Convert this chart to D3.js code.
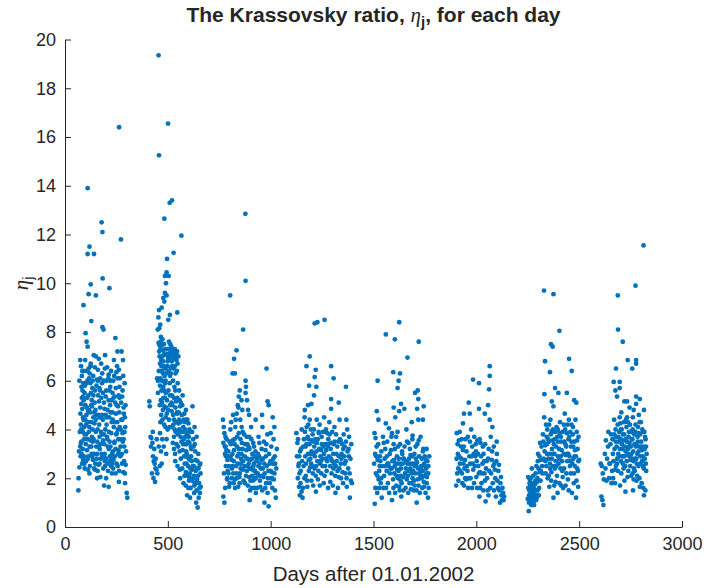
<!DOCTYPE html>
<html>
<head>
<meta charset="utf-8">
<script src="https://cdn.jsdelivr.net/npm/d3@7"></script>
<style>
  body { margin: 0; background: #fff; }
  text { font-family: "Liberation Sans", Arial, Helvetica, sans-serif; fill: #262626; }
</style>
</head>
<body>
<svg id="chart" width="706" height="588"></svg>
<script>
// ticks
const xTicks = [0, 500, 1000, 1500, 2000, 2500, 3000];
const yTicks = [0, 2, 4, 6, 8, 10, 12, 14, 16, 18, 20];

// [day, eta], one array per season
const season1 = [
  [110,13.9],[263,16.4],[178,12.5],[182,12.1],[272,11.8],[119,11.5],[110,11.2],[141,11.2],[183,10.2],
  [125,9.95],[216,9.8],[115,9.55],[150,9.5],[90,9.1],[128,8.45],[182,8.2],[187,8.1],
  [65,1.5],[66,2.0],[70,2.45],[68,3.1],[72,3.9],[75,4.65],[70,6.0],[74,6.85],
  [78,6.6],[82,6.2],[80,5.75],[85,5.6],[88,5.35],[79,5.05],[84,4.85],[90,4.4],[77,3.45],[86,3.2],
  [81,3.0],[92,2.9],[88,2.75],[94,4.1],[91,5.2],
  [100,7.95],[105,7.6],[110,7.4],[98,6.85],[115,6.5],[120,6.3],[103,5.9],[126,5.5],[108,5.3],[131,4.95],
  [113,4.75],[99,4.4],[118,4.1],[124,3.55],[107,3.15],[129,3.0],[102,2.7],[121,2.5],[112,2.35],[133,5.7],
  [96,3.8],[117,6.1],[127,4.3],[106,4.9],[132,2.9],
  [140,7.05],[150,7.0],[145,6.55],[160,6.45],[155,6.05],[170,5.6],[138,5.4],[165,5.15],[148,4.8],[175,4.5],
  [143,4.25],[158,4.0],[168,3.7],[152,3.3],[178,3.0],[136,2.75],[163,2.55],[146,2.35],[172,2.05],[156,2.0],
  [180,5.9],[139,3.6],[162,4.6],[176,6.7],[150,3.9],[168,2.6],
  [195,7.05],[205,6.55],[212,6.25],[188,6.0],[220,5.75],[198,5.35],[226,5.2],[192,4.85],[215,4.5],[202,4.2],
  [225,3.85],[185,3.55],[208,3.3],[218,2.9],[195,2.5],[228,2.2],[200,2.0],[212,1.65],[190,1.7],[222,4.7],
  [206,3.6],[188,2.9],[216,5.6],[230,2.6],
  [245,7.75],[255,7.2],[238,6.85],[262,6.45],[250,6.35],[235,6.0],[265,5.75],[242,5.35],[258,4.95],[248,4.65],
  [232,4.4],[266,4.1],[252,3.85],[240,3.45],[260,3.15],[236,2.75],[256,2.5],[246,2.2],[262,1.85],[244,5.1],
  [268,3.6],[233,3.1],[254,4.3],
  [275,7.2],[282,6.85],[290,5.9],[278,5.35],[286,4.65],[293,4.1],[280,3.85],[288,3.3],[276,3.0],[295,2.55],
  [284,2.25],[292,1.8],[300,1.4],[303,1.2],[279,4.4],[287,2.7],
  [74,3.3],[76,2.9],[80,3.5],[83,2.6],[77,4.2],[84,6.4],[89,5.9],[93,3.6],[96,2.4],[99,5.0],
  [101,3.4],[104,4.6],[109,6.0],[111,2.8],[114,5.4],[116,3.9],[119,2.2],[122,4.7],[125,6.7],[128,3.3],
  [130,5.2],[134,4.0],[137,6.2],[141,3.0],[144,5.1],[147,2.6],[149,4.4],[153,5.8],[157,3.5],[159,2.3],
  [161,5.4],[164,6.9],[166,4.2],[169,3.2],[171,4.9],[174,2.8],[177,5.3],[179,3.8],[181,6.3],[184,4.4],
  [186,2.4],[189,5.1],[191,3.4],[194,6.5],[196,4.0],[199,2.8],[201,5.6],[204,3.7],[207,4.8],[209,2.3],
  [211,6.1],[214,3.9],[217,2.7],[219,5.0],[221,3.3],[224,6.4],[227,4.3],[229,3.0],[231,5.5],[234,2.4],
  [237,4.1],[239,6.2],[241,3.5],[243,2.9],[247,5.7],[249,3.8],[251,2.6],[253,6.6],[257,4.0],[259,3.0],
  [261,5.4],[263,2.3],[264,4.7],[267,6.1],[269,2.9],[271,4.0],[273,5.1],[277,2.6],[281,3.5],[283,6.2],
  [285,4.9],[289,3.9],[291,2.2],[294,5.0],[297,3.1],[88,4.5],[95,5.5],[103,3.8],[112,4.3],[123,5.9],
  [135,3.5],[142,4.7],[154,2.8],[167,5.7],[173,3.4],[183,2.9],[193,3.0],[203,4.5],[213,3.2],[223,2.5],
  [79,4.0],[82,5.3],[87,3.9],[91,6.4],[94,2.6],[97,5.8],[102,4.2],[106,6.4],[110,3.6],[113,2.9],
  [117,4.8],[120,3.3],[124,6.6],[127,5.0],[131,3.7],[134,6.0],[138,4.5],[142,2.4],[146,5.6],[151,4.6],
  [156,3.0],[160,6.0],[163,3.3],[167,4.5],[171,6.1],[175,3.9],[180,4.6],[185,5.5],[190,3.8],[194,2.7],
  [198,4.6],[203,6.0],[207,2.6],[212,5.2],[217,3.5],[221,6.0],[226,2.8],[231,4.7],[236,5.3],[241,4.3],
  [246,3.2],[251,5.0],[256,6.1],[260,3.6],[265,5.3],[270,3.3],[274,4.4],[280,5.6],[285,3.6],[291,4.5]
];

const season2 = [
  [455,19.35],[501,16.55],[457,15.25],[509,13.3],[520,13.4],[483,12.65],[566,11.95],[528,11.25],[496,11.0],
  [494,10.45],[486,10.3],[504,10.3],[491,10.0],[486,9.6],[478,9.4],[483,9.25],[494,9.5],[546,8.8],[454,8.6],
  [502,8.5],[510,8.7],[458,8.15],[451,8.1],
  [410,5.15],[412,4.95],[416,3.7],[420,3.65],[425,3.45],[418,3.3],[428,2.9],[432,2.7],[436,2.6],[440,2.4],
  [445,2.35],[430,2.0],[438,1.85],[448,6.1],[452,6.0],[455,7.55],[460,7.45],
  [465,7.6],[470,7.45],[475,7.25],[480,7.05],[468,6.85],[485,6.55],[463,6.1],[472,6.0],[478,5.75],[490,5.5],
  [466,5.2],[483,4.95],[495,4.65],[474,4.4],[488,4.1],[462,3.85],[480,3.3],[492,3.0],[470,2.6],[498,7.3],
  [460,7.0],[476,6.3],[486,5.3],[468,4.6],[494,3.6],
  [505,7.6],[512,7.5],[520,7.25],[528,7.2],[535,7.0],[542,6.85],[515,6.55],[525,6.0],[548,5.9],[532,5.75],
  [555,5.6],[510,5.4],[540,5.15],[560,4.95],[518,4.75],[545,4.65],[530,4.4],[552,4.25],[508,4.1],[538,3.9],
  [562,3.7],[524,3.45],[550,3.3],[535,3.0],[558,2.35],[514,6.3],[544,6.4],[522,5.0],[556,4.0],[530,3.2],
  [570,5.0],[580,4.65],[590,4.4],[600,4.25],[575,4.1],[595,3.85],[585,3.7],[605,3.45],[572,3.15],[592,3.0],
  [610,2.75],[582,2.6],[598,2.5],[588,2.25],[604,2.05],[576,1.8],[594,1.3],[608,1.2],[612,3.3],[586,2.9],
  [600,1.6],[578,3.6],
  [620,4.95],[630,4.1],[640,3.7],[625,3.3],[648,3.0],[635,2.75],[655,2.55],[618,2.35],[642,1.95],[660,1.65],
  [628,1.4],[650,1.2],[638,1.0],[645,0.8],[622,2.0],[658,2.6],[632,1.8],
  [458,7.2],[462,6.7],[466,7.8],[471,6.4],[473,7.0],[477,6.8],[481,7.5],[484,6.2],[487,7.3],[489,6.0],
  [493,7.1],[497,6.6],[500,7.0],[503,6.9],[507,7.3],[511,6.2],[513,7.0],[517,7.4],[519,6.8],[523,7.1],
  [527,6.5],[531,6.9],[534,7.3],[537,6.3],[541,7.1],[547,6.7],[551,7.0],[457,8.9],[463,8.3],[470,9.0],
  [452,5.5],[461,5.0],[464,4.3],[469,5.6],[476,4.8],[479,5.3],[482,4.2],[487,5.9],[490,4.5],[496,5.2],
  [499,4.0],[503,5.6],[506,4.4],[511,5.0],[516,4.1],[520,5.4],[526,4.6],[529,5.3],[533,4.0],[537,4.9],
  [541,4.3],[546,5.3],[549,3.8],[553,4.7],[557,5.2],[561,4.3],[565,3.9],[568,4.6],[572,5.4],[577,4.4],
  [583,4.0],[588,4.8],
  [530,3.7],[536,2.7],[542,3.4],[547,2.5],[553,3.9],[557,3.1],[563,2.8],[566,3.5],[570,2.4],[574,3.9],
  [579,2.9],[581,2.1],[584,3.4],[587,1.7],[589,3.1],[591,2.6],[593,3.8],[596,2.1],[599,3.5],[601,2.8],
  [603,1.9],[606,3.9],[609,2.4],[611,1.6],[614,3.2],[616,2.7],[619,1.9],[623,3.6],[626,2.5],[629,1.7],
  [633,3.1],[636,2.3],[639,1.5],[644,2.7],[647,2.1],[652,1.8],[656,1.4],[560,2.0],[595,4.4],[605,4.0],
  [423,2.2],[427,3.9],[434,3.2],[441,2.8],[446,3.6],[449,2.2],[456,3.3],[461,2.5],[467,3.1],[473,3.6],
  [456,6.4],[464,7.3],[469,6.6],[474,7.7],[479,6.6],[484,7.1],[488,6.5],[493,6.3],[499,6.8],[505,6.4],
  [509,7.1],[514,7.2],[521,6.6],[526,7.0],[533,6.6],[539,6.9],[545,7.2],[462,5.8],[472,5.1],[481,5.6],
  [491,4.9],[501,4.8],[509,5.9],[518,5.1],[527,4.2],[536,5.6],[544,4.7],[555,4.4],[563,5.1],[575,3.4],
  [582,4.3],[590,3.4],[597,2.9],[602,3.7],[607,2.2],[613,2.9],[618,3.9],[621,2.5],[627,2.1],[631,3.4],
  [637,1.8],[641,2.4],[649,2.4],[654,1.6],[659,2.2]
];

const season3 = [
  [877,12.85],[878,10.1],[803,9.5],[866,8.1],[834,7.25],[822,6.9],[980,6.5],[815,6.3],[826,6.3],[878,6.0],
  [880,5.75],
  [768,4.4],[772,4.1],[775,3.85],[780,3.7],[770,3.45],[785,3.15],[778,3.0],[790,2.75],[782,2.5],[795,2.2],
  [788,1.95],[798,1.65],[770,1.25],[775,1.0],[800,3.5],[792,2.9],[804,4.0],
  [850,5.6],[845,5.35],[858,5.2],[840,5.0],[862,4.8],[835,4.65],[852,4.4],[828,4.1],[845,3.85],[815,3.55],
  [860,3.45],[822,3.15],[838,2.9],[810,2.75],[855,2.6],[832,2.5],[865,2.35],[818,2.2],[848,2.05],[826,1.95],
  [842,1.65],[858,3.0],[812,2.4],[836,3.3],[866,2.7],[820,1.8],[850,2.2],
  [878,5.5],[885,5.2],[890,4.8],[905,4.1],[896,3.7],[915,3.45],[882,3.15],[925,2.9],[900,2.75],[888,2.5],
  [912,2.35],[930,2.2],[895,2.05],[920,1.95],[875,1.8],[908,1.6],[928,1.4],[898,1.1],[918,2.6],[884,2.3],
  [902,1.9],[926,3.1],[892,3.3],[910,2.1],
  [985,5.15],[990,5.0],[1010,4.5],[960,4.1],[1000,3.85],[945,3.45],[975,3.15],[1020,2.9],[955,2.75],[995,2.6],
  [940,2.5],[1005,2.25],[965,2.05],[1015,1.95],[950,1.65],[985,1.4],[1025,1.2],[970,1.0],[990,0.85],[938,3.0],
  [1000,2.3],[962,2.4],[1022,2.6],[978,1.8],[945,2.1],[1008,1.6],
  [773,2.2],[777,3.3],[779,1.6],[783,2.9],[786,3.6],[789,2.0],[794,3.1],[797,2.5],[801,1.8],[806,3.4],
  [808,4.3],[811,2.0],[814,3.0],[817,4.6],[821,2.7],[824,3.6],[827,1.6],[830,4.4],[833,2.2],[837,3.7],
  [840,2.6],[843,4.9],[846,3.2],[849,1.8],[853,3.6],[856,2.8],[859,4.1],[863,3.2],[868,1.9],[871,3.8],
  [873,2.5],[876,3.4],[880,2.1],[883,3.7],[886,2.8],[889,1.7],[893,2.6],[897,3.2],[900,1.5],[903,2.4],
  [906,3.6],[909,2.8],[913,1.9],[916,2.5],[919,3.3],[922,1.6],[924,2.3],[927,2.0],[931,2.7],[934,1.6],
  [937,2.2],[941,3.7],[944,2.9],[948,1.9],[952,2.4],[956,3.2],[959,1.5],[963,2.8],[967,3.5],[971,2.2],
  [974,1.6],[977,2.9],[981,2.5],[984,3.8],[987,2.0],[992,3.0],[996,1.8],[999,2.7],[1003,3.3],[1006,2.0],
  [1011,2.6],[1014,3.6],[1018,2.2],[1021,1.5],[1027,2.4],[1030,3.2],[958,4.6],[1018,4.1],[927,4.4],[895,4.6],
  [781,3.3],[791,2.3],[805,2.9],[815,2.5],[825,3.4],[835,2.0],[844,3.0],[854,2.4],[864,3.9],[874,2.9],
  [887,3.4],[899,2.4],[911,3.0],[921,2.3],[933,2.8],[946,2.6],[957,2.1],[969,2.6],[979,3.4],[989,2.3],
  [1002,2.0],[1013,2.8]
];

const season4 = [
  [1214,8.35],[1227,8.4],[1262,8.5],[1190,7.0],[1174,6.6],[1219,6.45],[1294,6.6],[1214,6.15],[1306,6.1],
  [1366,5.75],[1187,5.8],[1222,5.75],[1211,5.4],[1198,5.05],[1182,5.0],[1294,5.25],[1331,5.1],[1294,4.85],
  [1166,4.8],
  [1125,3.85],[1130,3.45],[1128,2.9],[1135,2.5],[1140,2.2],[1132,2.0],[1145,1.8],[1138,1.65],[1150,1.45],
  [1142,1.3],[1155,1.2],[1148,3.2],[1153,2.7],
  [1165,4.5],[1190,4.4],[1175,4.1],[1210,4.0],[1235,3.85],[1180,3.7],[1200,3.55],[1225,3.45],[1170,3.3],
  [1245,3.15],[1195,3.0],[1215,2.9],[1185,2.75],[1240,2.6],[1160,2.5],[1205,2.2],[1230,1.95],[1178,1.65],
  [1220,1.45],[1250,2.8],[1168,2.9],[1212,3.3],[1192,2.45],[1238,4.2],[1198,1.9],[1248,3.7],
  [1260,4.5],[1285,4.3],[1310,4.1],[1275,3.85],[1340,3.55],[1295,3.45],[1360,3.3],[1270,3.15],[1320,3.0],
  [1380,2.9],[1300,2.7],[1265,2.5],[1350,2.25],[1330,2.05],[1290,1.85],[1370,1.65],[1315,1.4],[1385,1.2],
  [1345,3.0],[1275,2.7],[1305,2.4],[1360,2.6],[1280,3.6],[1325,2.3],[1390,1.9],[1258,1.8],[1335,4.4],[1372,4.0],
  [1133,3.6],[1137,2.6],[1143,3.1],[1146,2.3],[1151,4.0],[1157,1.6],[1162,3.6],[1164,2.0],[1167,3.9],[1172,2.6],
  [1174,3.4],[1177,1.9],[1181,3.0],[1183,4.2],[1186,2.3],[1189,3.4],[1193,2.8],[1196,4.0],[1199,3.1],[1202,2.5],
  [1204,3.8],[1207,1.7],[1209,3.0],[1213,2.4],[1217,3.6],[1219,2.1],[1222,3.1],[1224,4.4],[1227,2.7],[1229,3.6],
  [1232,2.3],[1236,3.2],[1239,1.7],[1242,2.9],[1246,2.2],[1249,3.4],[1252,2.5],[1255,3.9],[1259,3.0],[1262,2.1],
  [1266,3.4],[1269,4.0],[1272,2.3],[1277,3.3],[1279,1.6],[1283,2.9],[1286,3.8],[1289,2.5],[1292,3.2],[1296,2.2],
  [1299,3.9],[1302,1.7],[1304,3.0],[1308,2.6],[1311,3.5],[1314,2.1],[1318,3.8],[1321,2.7],[1324,3.3],[1327,1.6],
  [1331,2.9],[1334,2.4],[1337,3.6],[1342,2.0],[1344,2.8],[1348,3.4],[1352,1.8],[1355,3.8],[1358,2.9],[1363,2.2],
  [1366,3.5],[1369,2.0],[1374,3.1],[1377,2.4],[1381,3.7],[1384,2.2],[1388,2.8],[1392,3.4],[1395,1.8],[1368,4.4],
  [1139,2.9],[1158,3.3],[1171,2.1],[1184,3.6],[1197,2.6],[1208,3.5],[1221,2.5],[1233,3.9],[1244,2.7],[1256,3.3],
  [1268,2.8],[1281,3.4],[1293,2.8],[1306,3.4],[1317,2.5],[1329,3.5],[1341,2.6],[1353,3.2],[1365,2.7],[1379,3.2]
];

const season5 = [
  [1625,8.4],[1560,7.9],[1604,7.7],[1720,7.6],[1665,6.95],[1520,6.0],[1596,6.35],[1629,6.3],[1622,6.0],
  [1617,5.7],[1702,5.5],[1715,5.6],[1718,5.25],[1744,4.95],[1712,4.85],[1634,5.05],[1598,4.9],[1650,4.85],
  [1625,4.75],[1516,4.75],[1524,4.4],[1718,4.4],
  [1505,3.85],[1510,3.65],[1515,3.3],[1508,3.0],[1520,2.75],[1530,2.5],[1512,2.2],[1525,1.95],[1535,1.8],
  [1518,1.4],[1540,1.2],[1506,0.95],[1538,3.1],[1528,2.3],
  [1560,4.25],[1575,4.05],[1590,3.85],[1610,3.7],[1550,3.45],[1620,3.3],[1585,3.15],[1640,3.0],[1565,2.9],
  [1600,2.75],[1630,2.6],[1555,2.5],[1615,2.35],[1580,2.2],[1645,2.05],[1595,1.95],[1570,1.8],[1625,1.65],
  [1605,1.4],[1635,1.25],[1590,1.1],[1648,2.8],[1612,2.1],[1568,2.6],[1632,1.9],[1598,3.4],[1622,2.3],[1548,1.6],
  [1660,4.0],[1690,3.75],[1720,3.55],[1670,3.45],[1705,3.3],[1740,3.1],[1680,2.95],[1755,2.75],[1665,2.6],
  [1700,2.5],[1730,2.35],[1685,2.2],[1760,2.05],[1715,1.95],[1675,1.8],[1745,1.65],[1695,1.5],[1725,1.4],
  [1765,1.2],[1710,1.0],[1750,2.5],[1690,2.0],[1735,2.8],[1670,2.3],[1712,2.65],[1745,1.85],[1700,1.7],
  [1682,1.55],[1728,2.15],[1758,3.2],[1662,1.95],
  [1503,2.6],[1509,1.6],[1513,2.9],[1519,2.1],[1523,3.4],[1527,1.6],[1533,2.7],[1537,2.0],[1543,2.5],[1546,3.7],
  [1552,2.1],[1557,3.2],[1561,1.6],[1564,2.3],[1567,3.5],[1572,2.6],[1576,1.4],[1579,3.0],[1583,2.4],[1587,3.7],
  [1592,2.7],[1597,1.6],[1601,2.2],[1604,3.2],[1608,2.6],[1611,1.7],[1614,2.9],[1617,3.9],[1619,2.0],[1623,2.8],
  [1627,1.5],[1629,3.4],[1633,2.4],[1637,1.8],[1639,3.1],[1642,2.6],[1646,1.5],[1651,3.3],[1653,2.2],[1656,1.6],
  [1659,2.7],[1663,3.5],[1667,2.1],[1669,1.4],[1673,2.8],[1677,3.2],[1679,2.4],[1683,1.8],[1687,2.9],[1689,3.6],
  [1693,2.3],[1697,1.9],[1699,3.0],[1703,2.2],[1706,2.8],[1709,1.5],[1713,3.4],[1717,2.4],[1719,1.7],[1722,2.9],
  [1726,2.0],[1729,3.7],[1732,2.5],[1737,1.6],[1739,2.3],[1742,3.2],[1747,2.1],[1749,2.9],[1753,1.4],[1756,2.4],
  [1759,1.8],[1762,2.7],[1766,2.2],[1768,1.6],[1771,2.9],[1686,4.3],[1740,4.4],[1606,4.5],
  [1531,2.9],[1554,2.8],[1574,2.5],[1589,2.4],[1603,2.5],[1618,2.6],[1631,2.1],[1644,2.8],[1657,2.4],[1672,2.6],
  [1684,2.6],[1696,2.6],[1708,2.5],[1721,2.2],[1734,2.0],[1746,2.6],[1757,2.2],[1767,2.5]
];

const season6 = [
  [2065,6.6],[2065,6.2],[1984,6.05],[2013,5.9],[2062,5.65],[1963,5.1],[1940,4.65],[1968,4.65],[2013,4.85],
  [2041,4.65],[2057,5.0],[2065,4.4],[1935,4.25],[2078,4.1],
  [1905,3.85],[1915,3.55],[1925,3.3],[1935,3.15],[1910,3.0],[1945,2.75],[1920,2.6],[1955,2.5],[1930,2.2],
  [1950,1.95],[1940,1.7],[1960,1.6],[1912,2.4],[1948,3.6],[1902,1.7],
  [1975,4.0],[1990,3.7],[2005,3.55],[2020,3.45],[1980,3.3],[2035,3.0],[1995,2.9],[2050,2.7],[2010,2.5],
  [1985,2.35],[2040,2.2],[2000,2.05],[2025,1.8],[2055,1.5],[2015,1.25],[2045,1.05],[1970,2.6],[2030,2.6],
  [2060,3.2],[1998,3.1],[2042,1.9],[2018,2.25],
  [2070,3.7],[2085,3.3],[2100,3.0],[2075,2.75],[2110,2.55],[2090,2.35],[2120,2.05],[2080,1.8],[2105,1.6],
  [2130,1.4],[2095,1.25],[2125,1.1],[2115,1.0],[2135,1.25],[2088,2.6],
  [1904,2.8],[1907,2.2],[1909,3.4],[1913,1.9],[1917,2.9],[1919,3.9],[1922,2.3],[1927,2.8],[1929,3.6],[1932,1.8],
  [1937,2.6],[1939,3.3],[1942,2.4],[1946,2.0],[1952,3.1],[1957,2.3],[1959,3.7],[1963,2.0],[1966,2.9],[1969,3.5],
  [1972,2.0],[1977,2.9],[1979,1.6],[1982,2.6],[1987,3.0],[1989,1.8],[1993,2.5],[1997,3.4],[2002,2.7],[2004,1.6],
  [2008,3.0],[2012,2.2],[2016,3.6],[2019,1.6],[2023,2.9],[2027,2.2],[2032,3.3],[2034,1.5],[2038,2.7],[2043,3.4],
  [2047,2.4],[2052,2.0],[2057,2.8],[2059,1.3],[2063,2.3],[2068,1.6],[2072,2.2],[2077,3.1],[2082,2.5],[2086,1.5],
  [2092,2.0],[2097,2.7],[2102,1.9],[2107,2.3],[2112,1.5],[2117,1.8],[2122,1.3],[2127,1.6],[2132,1.1],[2099,3.5]
];

const season7 = [
  [2329,9.7],[2375,9.55],[2404,8.05],[2363,7.5],[2371,7.4],[2334,6.8],[2358,6.35],[2451,6.9],[2464,6.4],
  [2383,5.7],[2399,5.5],[2440,5.5],[2331,5.45],[2367,5.15],[2375,4.95],[2476,5.2],[2486,5.1],
  [2252,2.05],[2260,1.95],[2268,1.8],[2275,1.65],[2258,1.5],[2282,1.4],[2265,1.25],[2290,1.1],[2272,1.0],
  [2255,0.65],[2298,1.5],[2285,1.75],[2262,1.35],[2278,1.2],[2295,1.85],[2305,1.6],[2250,1.15],[2288,2.2],
  [2310,3.45],[2300,3.0],[2315,2.75],[2320,2.5],[2308,2.25],[2270,2.4],
  [2330,4.5],[2360,4.4],[2390,4.1],[2345,4.0],[2405,3.85],[2370,3.55],[2335,3.35],[2415,3.15],[2380,3.0],
  [2350,2.8],[2400,2.6],[2340,2.5],[2365,2.25],[2420,2.05],[2385,1.85],[2355,1.65],[2395,1.4],[2375,1.2],
  [2410,2.9],[2342,3.7],[2368,3.2],[2398,3.5],[2352,2.1],[2382,2.4],[2412,1.7],
  [2430,4.65],[2450,4.4],[2470,4.1],[2440,3.85],[2490,3.55],[2460,3.3],[2480,3.15],[2435,2.95],[2500,2.75],
  [2455,2.5],[2475,2.2],[2445,1.95],[2495,1.65],[2465,1.4],[2485,1.2],[2428,3.5],[2472,2.8],[2452,3.7],
  [2490,2.4],[2438,2.2],
  [2253,1.6],[2256,1.0],[2259,1.8],[2261,1.2],[2264,2.0],[2266,1.5],[2269,1.1],[2271,1.7],[2274,1.3],[2276,2.1],
  [2279,1.6],[2281,0.9],[2284,1.3],[2287,1.9],[2289,1.5],[2292,2.5],[2294,1.2],[2297,2.0],[2302,2.4],[2304,1.3],
  [2307,2.9],[2312,1.9],[2317,3.3],[2322,2.2],[2324,3.8],[2327,2.8],[2332,3.1],[2337,2.2],[2339,4.2],[2344,3.0],
  [2347,2.0],[2349,3.6],[2354,4.2],[2357,3.0],[2359,2.4],[2362,3.8],[2364,1.9],[2367,2.8],[2372,4.0],[2374,2.5],
  [2377,3.4],[2379,1.7],[2383,3.9],[2386,2.7],[2388,3.3],[2392,2.1],[2394,3.7],[2397,2.9],[2402,3.2],[2404,1.8],
  [2407,4.3],[2409,2.4],[2413,3.5],[2417,2.7],[2419,3.9],[2422,1.6],[2425,3.0],[2427,2.4],[2432,4.0],[2434,1.7],
  [2437,3.3],[2442,2.7],[2444,4.2],[2447,3.0],[2449,1.5],[2453,2.9],[2457,3.9],[2459,2.2],[2462,3.5],[2467,2.6],
  [2469,3.8],[2474,1.8],[2477,3.5],[2479,2.5],[2482,4.4],[2484,2.9],[2487,1.9],[2492,3.2],[2494,2.3],[2497,3.7],
  [2257,1.3],[2263,1.7],[2267,0.9],[2273,1.5],[2277,1.0],[2283,1.8],[2291,1.3],[2299,2.7],[2313,2.3],[2326,3.5],
  [2336,2.7],[2343,3.4],[2353,3.5],[2358,2.6],[2366,3.9],[2373,3.0],[2381,3.6],[2389,2.5],[2396,4.0],[2403,2.8],
  [2411,3.7],[2418,2.3],[2426,4.2],[2433,3.4],[2441,3.0],[2448,3.6],[2456,2.7],[2463,4.2],[2471,3.3],[2478,2.9],
  [2488,3.9],[2496,2.7]
];

const season8 = [
  [2813,11.55],[2774,9.9],[2688,9.5],[2689,8.1],[2712,7.6],[2736,6.85],[2777,6.85],[2777,6.7],[2758,6.5],
  [2679,6.5],[2668,5.95],[2697,5.95],[2676,5.6],[2697,5.7],[2684,5.35],[2720,5.15],[2777,5.35],[2795,5.25],
  [2777,5.05],[2815,4.8],[2733,5.15],
  [2605,2.6],[2610,2.5],[2615,2.2],[2620,1.95],[2608,1.25],[2613,1.1],[2618,0.9],[2630,3.55],[2640,3.3],
  [2625,3.0],[2650,2.6],[2660,2.3],[2645,2.0],[2655,3.8],
  [2670,4.4],[2700,4.25],[2730,4.1],[2760,4.0],[2790,3.85],[2680,3.7],[2715,3.55],[2745,3.45],[2775,3.3],
  [2805,3.15],[2690,3.0],[2720,2.9],[2750,2.75],[2780,2.6],[2810,2.5],[2675,2.35],[2705,2.2],[2735,2.05],
  [2765,1.95],[2795,1.65],[2725,1.45],[2815,1.3],[2685,2.8],[2740,3.7],[2770,2.3],[2800,4.3],[2710,3.2],
  [2755,3.9],[2695,3.9],[2785,3.5],[2820,3.7],[2665,2.0],[2748,2.5],[2712,2.6],[2782,2.1],[2738,3.2],
  [2762,1.5],[2798,2.9],[2825,3.3],[2728,4.4],
  [2628,2.4],[2633,1.9],[2636,2.8],[2642,3.9],[2647,2.6],[2652,3.4],[2657,1.8],[2662,3.6],[2667,2.7],[2672,3.2],
  [2674,1.8],[2677,4.0],[2679,2.5],[2682,3.3],[2687,4.2],[2689,2.3],[2692,3.5],[2694,2.9],[2697,4.5],[2699,1.7],
  [2702,3.6],[2704,2.7],[2707,4.0],[2709,2.9],[2713,3.8],[2716,2.4],[2718,4.3],[2722,3.3],[2724,2.5],[2727,3.6],
  [2731,2.7],[2733,4.5],[2736,3.0],[2739,2.3],[2742,3.9],[2744,2.9],[2747,4.2],[2751,3.3],[2753,2.1],[2756,3.6],
  [2758,2.8],[2761,4.5],[2763,3.1],[2766,2.4],[2768,3.8],[2772,2.8],[2774,4.2],[2777,3.4],[2779,1.9],[2783,3.0],
  [2786,4.1],[2788,2.5],[2791,3.3],[2793,2.0],[2796,3.8],[2799,2.6],[2802,3.5],[2804,1.8],[2807,4.0],[2809,2.9],
  [2812,3.3],[2814,2.4],[2817,3.9],[2819,2.8],[2822,1.5],[2823,3.6],[2826,2.3],[2828,3.0],[2765,4.8],[2705,4.7],
  [2745,4.9],[2790,4.6],[2720,1.9],[2760,2.2],[2812,1.6],
  [2664,3.0],[2671,3.8],[2678,3.5],[2684,2.6],[2691,3.7],[2698,3.2],[2703,4.0],[2708,3.4],[2714,2.9],[2719,3.8],
  [2726,3.1],[2732,3.5],[2737,4.3],[2743,3.3],[2749,3.9],[2754,3.0],[2759,3.6],[2764,2.7],[2769,3.4],[2773,3.9],
  [2778,2.8],[2784,3.7],[2789,3.1],[2794,4.3],[2800,3.3],[2806,2.7],[2811,3.9],[2818,3.2],[2824,2.6]
];

const points = [].concat(season1, season2, season3, season4, season5, season6, season7, season8);

const svg = d3.select("#chart");
const margin = {left: 65, right: 24, top: 39.5, bottom: 61};
const W = 706, H = 588;

const x = d3.scaleLinear().domain([0, 3000]).range([margin.left, W - margin.right]);
const y = d3.scaleLinear().domain([0, 20]).range([H - margin.bottom, margin.top]);

svg.append("rect").attr("width", W).attr("height", H).attr("fill", "#fff");

// dots
svg.append("g").selectAll("circle")
  .data(points)
  .enter()
  .append("circle")
  .attr("cx", d => x(d[0]))
  .attr("cy", d => y(d[1]))
  .attr("r", 2.4)
  .attr("fill", "#0072BD");

// axes, ticks pointing inwards like matlab
const xAxis = svg.append("g")
  .attr("transform", `translate(0,${H - margin.bottom})`)
  .call(d3.axisBottom(x).tickValues(xTicks).tickFormat(d3.format("d"))
    .tickSize(-6).tickSizeOuter(0).tickPadding(10));
const yAxis = svg.append("g")
  .attr("transform", `translate(${margin.left},0)`)
  .call(d3.axisLeft(y).tickValues(yTicks).tickFormat(d3.format("d"))
    .tickSize(-6).tickSizeOuter(0).tickPadding(9));

[xAxis, yAxis].forEach(g => {
  g.selectAll("path, line").attr("stroke", "#262626").attr("stroke-width", 1);
  g.selectAll("text").attr("font-size", 18).attr("fill", "#262626")
    .attr("font-family", '"Liberation Sans", Arial, sans-serif');
});

// x label
svg.append("text")
  .attr("x", (x(0) + x(3000)) / 2)
  .attr("y", 581)
  .attr("text-anchor", "middle")
  .attr("font-size", 20.5)
  .text("Days after 01.01.2002");

// y label: eta with subscript j
const yl = svg.append("text")
  .attr("transform", `translate(28,${(y(0) + y(20)) / 2}) rotate(-90)`)
  .attr("text-anchor", "middle")
  .attr("font-size", 21);
yl.append("tspan").attr("font-family", '"Liberation Serif", "DejaVu Serif", serif')
  .attr("font-style", "italic").text("η");
yl.append("tspan").attr("font-size", 15).attr("dy", 5).text("j");

// title
const t = svg.append("text")
  .attr("x", (x(0) + x(3000)) / 2)
  .attr("y", 22)
  .attr("text-anchor", "middle")
  .attr("font-size", 21)
  .attr("font-weight", "bold")
  .attr("fill", "#000");
t.append("tspan").text("The Krassovsky ratio, ");
t.append("tspan").attr("font-family", '"Liberation Serif", "DejaVu Serif", serif')
  .attr("font-style", "italic").attr("font-weight", "normal").text("η");
t.append("tspan").attr("font-size", 15).attr("dy", 5).text("j");
t.append("tspan").attr("dy", -5).text(", for each day");
</script>
</body>
</html>
